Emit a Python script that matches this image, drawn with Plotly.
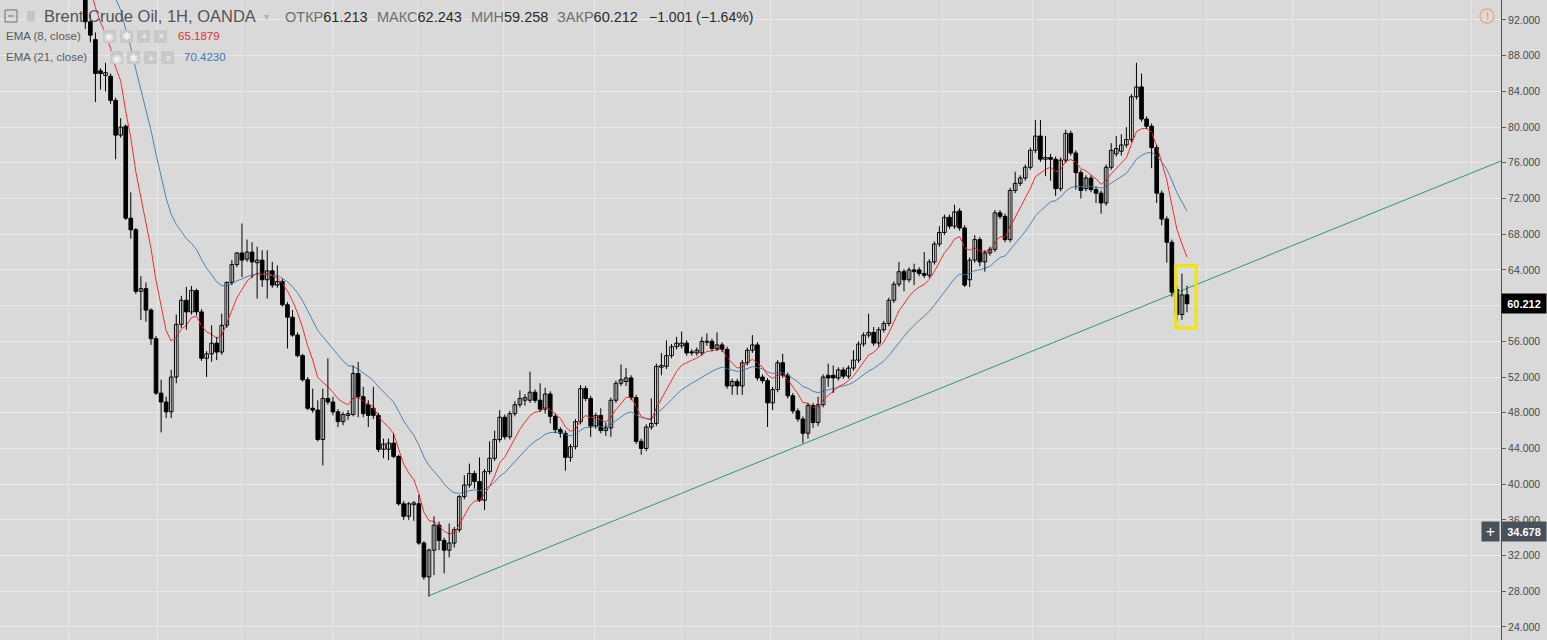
import plotly.graph_objects as go

# ---------------- data ----------------
opens = [95.5, 91.8, 89.8, 86.3, 85.8, 85.7, 83.0, 79.1, 80.1, 69.8,
         68.5, 61.6, 61.9, 59.5, 56.3, 50.2, 49.2, 48.1, 52.0, 57.9,
         60.6, 59.3, 61.7, 59.3, 54.1, 54.6, 55.8, 54.8, 57.8, 62.6,
         64.6, 65.9, 65.2, 66.0, 64.8, 65.1, 62.9, 63.9, 62.3, 62.7,
         60.1, 58.7, 56.7, 54.4, 51.7, 48.5, 48.3, 45.0, 49.6, 49.2,
         48.1, 47.0, 47.7, 47.8, 52.4, 49.8, 48.9, 48.5, 47.7, 43.9,
         43.9, 44.6, 43.1, 37.8, 36.4, 37.7, 37.8, 33.4, 29.6, 32.6,
         35.4, 33.7, 32.6, 33.4, 34.9, 38.6, 39.9, 41.2, 40.3, 38.2,
         41.4, 42.9, 45.0, 47.5, 45.3, 47.9, 48.9, 49.4, 49.4, 50.3,
         49.4, 48.4, 50.1, 47.6, 46.1, 45.7, 43.0, 44.2, 47.0, 50.7,
         49.6, 46.5, 47.7, 46.0, 46.3, 49.4, 51.3, 51.5, 51.9, 49.7,
         44.8, 44.0, 46.4, 46.8, 53.1, 53.2, 54.4, 55.4, 55.5, 55.8,
         54.8, 54.7, 54.7, 55.9, 56.0, 55.2, 55.6, 55.1, 51.0, 51.5,
         51.0, 53.6, 55.0, 55.6, 52.0, 51.6, 49.1, 50.6, 53.6, 52.2,
         49.9, 48.2, 47.3, 45.7, 48.8, 46.9, 48.9, 52.2, 52.2, 51.9,
         52.8, 52.1, 53.0, 53.9, 55.7, 56.7, 57.0, 55.8, 57.3, 58.0,
         60.6, 62.4, 63.8, 62.9, 64.0, 64.0, 63.6, 63.4, 64.9, 66.9,
         68.2, 69.9, 68.9, 70.6, 68.7, 62.9, 65.1, 67.4, 64.9, 65.9,
         66.3, 70.4, 70.0, 67.4, 72.9, 73.7, 74.3, 75.5, 77.4, 79.0,
         76.4, 76.6, 76.4, 73.1, 76.3, 79.3, 77.1, 74.9, 73.1, 74.3,
         73.0, 72.6, 71.5, 75.5, 77.0, 77.3, 78.0, 78.6, 83.4, 84.5,
         80.9, 80.1, 77.7, 72.6, 69.7, 67.1, 61.8, 59.0, 61.213]
highs = [96.0, 92.6, 90.6, 86.6, 87.2, 86.0, 83.3, 81.0, 80.3, 72.7,
         68.7, 63.3, 62.6, 59.7, 56.6, 51.7, 49.8, 52.8, 59.0, 61.1,
         62.1, 62.2, 61.9, 59.6, 54.9, 57.8, 56.5, 59.1, 62.7, 65.1,
         66.0, 69.2, 67.4, 67.1, 66.6, 66.2, 66.2, 64.9, 64.5, 63.0,
         60.4, 59.5, 57.0, 54.6, 52.0, 50.7, 49.4, 50.7, 54.1, 49.8,
         48.4, 48.1, 48.3, 53.3, 53.7, 50.9, 49.4, 50.9, 48.0, 45.1,
         45.1, 45.7, 43.3, 38.1, 38.0, 38.1, 38.8, 33.6, 32.8, 36.4,
         35.8, 34.0, 35.6, 35.2, 38.8, 41.0, 42.3, 41.5, 43.0, 41.7,
         44.8, 46.0, 48.3, 47.8, 48.2, 49.3, 50.5, 50.1, 52.6, 50.6,
         51.3, 50.8, 50.4, 47.9, 46.4, 46.0, 44.5, 47.3, 51.1, 51.0,
         49.9, 48.0, 48.5, 46.9, 49.7, 51.6, 53.4, 53.0, 52.2, 50.0,
         45.1, 46.7, 49.6, 53.5, 54.7, 56.1, 55.7, 56.5, 57.1, 56.1,
         55.1, 55.3, 56.5, 56.9, 56.3, 57.0, 55.9, 55.4, 51.8, 51.8,
         53.9, 55.3, 56.7, 55.9, 52.3, 51.9, 50.9, 53.9, 54.6, 52.5,
         50.2, 48.5, 47.6, 49.1, 49.1, 49.8, 52.3, 53.5, 53.3, 53.1,
         53.1, 53.3, 55.0, 56.0, 57.0, 59.1, 57.6, 57.6, 58.3, 60.9,
         62.7, 64.9, 64.1, 64.3, 64.7, 64.3, 66.0, 65.2, 67.2, 68.9,
         70.2, 70.2, 71.3, 70.9, 69.0, 65.4, 67.9, 67.7, 66.2, 66.6,
         70.7, 70.7, 70.3, 73.2, 75.0, 74.6, 75.8, 77.7, 80.8, 80.8,
         79.0, 77.0, 76.7, 76.6, 79.7, 79.6, 77.4, 75.2, 74.6, 74.6,
         73.3, 72.9, 75.8, 78.2, 79.0, 79.2, 80.0, 83.7, 87.2, 86.0,
         81.2, 80.4, 78.0, 72.9, 70.0, 67.4, 62.2, 63.6, 62.243]
lows = [91.0, 89.5, 82.8, 84.2, 84.0, 82.6, 76.4, 78.8, 69.6, 67.5,
        61.3, 58.4, 58.2, 55.6, 50.0, 45.8, 47.4, 47.4, 51.3, 57.5,
        57.3, 59.0, 58.9, 53.8, 52.0, 53.7, 53.9, 54.5, 57.5, 62.3,
        64.3, 63.2, 64.9, 63.1, 60.8, 62.1, 60.8, 62.0, 62.0, 59.9,
        55.2, 56.5, 54.2, 51.5, 48.3, 48.0, 44.8, 42.1, 48.9, 47.7,
        46.4, 46.6, 47.2, 47.6, 47.5, 47.5, 46.4, 47.3, 43.6, 42.9,
        42.7, 42.9, 37.6, 36.0, 36.0, 35.9, 33.2, 29.3, 27.4, 29.8,
        32.6, 30.0, 31.8, 32.9, 34.6, 38.3, 39.6, 39.5, 38.0, 37.1,
        41.1, 42.6, 44.7, 45.0, 45.0, 47.6, 48.6, 48.8, 49.1, 49.1,
        48.1, 47.9, 46.8, 45.7, 45.2, 41.5, 42.5, 43.9, 46.7, 49.3,
        45.3, 46.2, 45.7, 45.4, 45.3, 49.1, 51.0, 51.0, 49.4, 44.5,
        43.3, 43.7, 46.1, 46.5, 52.2, 52.9, 54.1, 55.1, 55.2, 54.4,
        54.4, 54.4, 54.4, 55.5, 54.9, 54.9, 54.8, 50.7, 50.0, 50.0,
        50.0, 53.3, 54.7, 51.6, 51.3, 46.4, 48.3, 50.3, 51.9, 49.6,
        47.9, 47.0, 44.6, 45.1, 46.3, 46.5, 48.6, 50.9, 50.2, 51.6,
        51.8, 51.8, 52.7, 53.6, 55.4, 56.4, 55.5, 55.4, 57.0, 57.7,
        60.3, 62.1, 61.6, 62.6, 62.3, 63.3, 63.1, 63.1, 64.6, 66.6,
        67.9, 68.6, 68.6, 68.4, 62.1, 62.1, 64.8, 64.4, 63.8, 65.6,
        66.0, 69.7, 67.1, 67.1, 72.6, 73.4, 74.0, 75.2, 77.1, 76.1,
        74.5, 74.0, 72.3, 72.8, 76.0, 76.8, 73.0, 72.0, 72.8, 72.7,
        71.5, 70.3, 71.2, 75.2, 76.7, 76.8, 77.7, 78.3, 83.1, 80.6,
        79.8, 75.4, 71.5, 69.0, 64.8, 61.0, 58.3, 58.4, 59.258]
closes = [91.8, 90.3, 86.0, 86.0, 86.1, 83.0, 79.1, 80.0, 69.8, 68.5,
          61.6, 61.9, 59.5, 56.3, 50.2, 49.2, 48.1, 52.0, 57.9, 60.6,
          59.3, 61.7, 59.3, 54.1, 54.6, 55.8, 54.8, 57.8, 62.6, 64.6,
          65.9, 65.1, 66.0, 64.9, 65.1, 62.9, 63.9, 62.3, 62.7, 60.1,
          58.7, 56.7, 54.4, 51.7, 48.5, 48.3, 45.0, 49.6, 49.2, 48.1,
          47.0, 47.8, 47.9, 52.4, 49.8, 47.9, 47.7, 47.7, 43.9, 44.5,
          44.6, 43.1, 37.8, 36.4, 37.8, 37.9, 33.4, 29.6, 32.6, 35.4,
          33.7, 32.6, 33.4, 34.9, 38.6, 39.9, 41.2, 40.3, 38.2, 41.4,
          42.9, 45.0, 47.5, 45.3, 47.9, 48.9, 49.6, 49.7, 50.3, 49.4,
          48.4, 50.1, 47.6, 46.1, 45.7, 43.0, 44.2, 47.0, 50.7, 49.6,
          46.5, 47.7, 46.0, 46.3, 49.4, 51.3, 51.7, 51.9, 49.7, 44.8,
          44.0, 46.4, 46.8, 53.2, 53.3, 54.4, 55.4, 55.8, 55.8, 54.7,
          54.7, 55.0, 56.0, 56.0, 55.2, 55.6, 55.1, 51.0, 51.5, 51.0,
          53.6, 55.0, 55.6, 51.9, 51.6, 49.1, 50.6, 53.6, 52.2, 49.9,
          48.2, 47.3, 45.7, 48.8, 46.9, 48.9, 52.0, 51.9, 51.9, 52.8,
          52.1, 53.0, 53.9, 55.7, 56.7, 57.0, 55.8, 57.3, 58.0, 60.6,
          62.4, 63.8, 62.9, 64.0, 63.8, 63.6, 63.4, 64.9, 66.9, 68.2,
          69.9, 68.9, 70.5, 68.7, 62.3, 65.1, 67.4, 64.9, 65.9, 66.3,
          70.4, 70.0, 67.4, 72.9, 73.7, 74.3, 75.5, 77.4, 79.0, 76.4,
          76.6, 76.4, 73.1, 76.3, 79.3, 77.1, 74.9, 72.9, 74.3, 73.0,
          72.6, 71.5, 75.5, 77.4, 77.6, 78.0, 78.6, 83.4, 84.5, 80.9,
          80.1, 77.7, 72.6, 69.7, 67.1, 61.5, 59.0, 61.2, 60.212]

ema8_seed = 97.0      # EMA(8) value at the first visible bar (above the view)
ema21_seed = 102.0    # EMA(21) value at the first visible bar (above the view)
ema8_last_label = "65.1879"
ema21_last_label = "70.4230"

price_ticks = [24, 28, 32, 36, 40, 44, 48, 52, 56, 60, 64, 68, 72, 76, 80, 84, 88, 92]
time_grid = [-3.4, 14.2, 31.0, 49.0, 65.8, 82.8, 100.7, 117.9, 135.5, 152.7,
             169.7, 187.5, 204.5, 221.9, 238.9, 256.7, 274.2]

trend_idx = [68, 281]
trend_val = [27.5, 76.4]
box_idx = [215.8, 219.8]
box_val = [57.5, 64.5]

last_price = 60.212
cross_price = 34.678

header = "Brent Crude Oil, 1H, OANDA"
ohlc_labels = ["ОТКР", "МАКС", "МИН", "ЗАКР"]
ohlc_values = ["61.213", "62.243", "59.258", "60.212"]
change_text = "−1.001 (−1.64%)"

# ---------------- derived ----------------
idx = list(range(len(closes)))


def ema(vals, period, seed):
    a = 2.0 / (period + 1)
    out = [seed]
    for v in vals[1:]:
        out.append(out[-1] + a * (v - out[-1]))
    return out


ema8 = ema(closes, 8, ema8_seed)
ema21 = ema(closes, 21, ema21_seed)

MIN_BODY = 0.12   # visual minimum body height for doji bars
up = [i for i in idx if closes[i] >= opens[i]]
dn = [i for i in idx if closes[i] < opens[i]]


def body(ii):
    base = [min(opens[i], closes[i]) for i in ii]
    hgt = [max(abs(closes[i] - opens[i]), MIN_BODY) for i in ii]
    return base, hgt


wick_x, wick_y = [], []
for i in idx:
    wick_x += [i, i, None]
    wick_y += [lows[i], highs[i], None]

# ---------------- layout geometry ----------------
W, H = 1547, 640
PLOT_W = 1501
first_px, last_px = 85.3, 1187.0
dx = (last_px - first_px) / (len(closes) - 1)
x_min = -first_px / dx
x_max = x_min + PLOT_W / dx
y_min, y_max = 22.54, 94.24

BG = "#d9d9d9"
GRID = "#e7e7e7"
FONT = "Liberation Sans, Arial, sans-serif"


def px(x):
    return x / PLOT_W


def py(y):
    return 1 - y / H


fig = go.Figure()

fig.add_trace(go.Scatter(x=idx, y=ema21, mode="lines",
                         line=dict(color="#4f83b5", width=1), hoverinfo="skip"))
fig.add_trace(go.Scatter(x=idx, y=ema8, mode="lines",
                         line=dict(color="#f0302e", width=1), hoverinfo="skip"))
fig.add_trace(go.Scatter(x=trend_idx, y=trend_val, mode="lines",
                         line=dict(color="#2f9a6c", width=1), hoverinfo="skip"))

fig.add_trace(go.Scatter(x=wick_x, y=wick_y, mode="lines",
                         line=dict(color="#000000", width=1), hoverinfo="skip"))
b_up, h_up = body(up)
fig.add_trace(go.Bar(x=up, y=h_up, base=b_up, width=0.72,
                     marker=dict(color="#ffffff", line=dict(color="#000000", width=1)),
                     hoverinfo="skip"))
b_dn, h_dn = body(dn)
fig.add_trace(go.Bar(x=dn, y=h_dn, base=b_dn, width=0.72,
                     marker=dict(color="#000000", line=dict(color="#000000", width=1)),
                     hoverinfo="skip"))

shapes = []
# yellow highlight box
shapes.append(dict(type="rect", xref="x", yref="y", x0=box_idx[0], x1=box_idx[1],
                   y0=box_val[0], y1=box_val[1], line=dict(color="#f4e500", width=3),
                   fillcolor="rgba(0,0,0,0)"))
# header icons
shapes.append(dict(type="rect", xref="paper", yref="paper", x0=px(5), x1=px(17),
                   y0=py(22), y1=py(10), line=dict(color="#707070", width=1)))
shapes.append(dict(type="line", xref="paper", yref="paper", x0=px(8), x1=px(14),
                   y0=py(16), y1=py(16), line=dict(color="#707070", width=1)))
shapes.append(dict(type="rect", xref="paper", yref="paper", x0=px(27), x1=px(35),
                   y0=py(21), y1=py(11), line=dict(width=0), fillcolor="#c4c4cc"))
# orange warning icon
shapes.append(dict(type="circle", xref="paper", yref="paper", x0=px(1480), x1=px(1494),
                   y0=py(23), y1=py(9), line=dict(color="#f0a47a", width=1.3)))

# legend button squares
btn_rows = [(30, 43, [103, 120, 137, 154]), (51, 64, [110, 127, 144, 161])]
for y0, y1, xs in btn_rows:
    for x0 in xs:
        shapes.append(dict(type="rect", xref="paper", yref="paper", x0=px(x0), x1=px(x0 + 13),
                           y0=py(y1), y1=py(y0), line=dict(width=0), fillcolor="#c9c9c9"))

ann = []


def text(x, y, t, size, color, anchor="left", family=FONT):
    ann.append(dict(xref="paper", yref="paper", x=px(x), y=py(y), text=t,
                    showarrow=False, xanchor=anchor, yanchor="middle",
                    font=dict(family=family, size=size, color=color)))


text(42, 16, header, 16.5, "#545454")
text(262, 16, "▾", 10, "#b0b0b0")
ohlc_x = [283, 375, 469, 555]
for lx, lab, val in zip(ohlc_x, ohlc_labels, ohlc_values):
    text(lx, 17, "<span style='color:#6e6e6e'>" + lab + "</span>" + val, 14.5, "#2a2a2a")
text(647, 17, change_text, 14, "#2a2a2a")

text(4, 36, "EMA (8, close)", 11.5, "#5a5a5a")
text(4, 57, "EMA (21, close)", 11.5, "#5a5a5a")
text(176, 36, ema8_last_label, 11.5, "#e53030")
text(182, 57, ema21_last_label, 11.5, "#3f78b2")
glyphs = ["◉", "✱", "+", "×"]
for y0, y1, xs in btn_rows:
    for x0, g in zip(xs, glyphs):
        text(x0 + 6.5, (y0 + y1) / 2, g, 11, "#f2f2f2", anchor="center")

text(1487, 16, "<b>!</b>", 10, "#f0a47a", anchor="center")

# price labels on the axis
ann.append(dict(xref="paper", yref="y", x=1.0, y=last_price, text="<b>60.212</b>",
                showarrow=False, xanchor="left", yanchor="middle", bgcolor="#000000",
                width=40, height=15, borderpad=2, align="center",
                font=dict(family=FONT, size=11, color="#ffffff")))
ann.append(dict(xref="paper", yref="y", x=1.0, y=cross_price, text="<b>34.678</b>",
                showarrow=False, xanchor="left", yanchor="middle", bgcolor="#4a505c",
                width=40, height=15, borderpad=2, align="center",
                font=dict(family=FONT, size=11, color="#ffffff")))
ann.append(dict(xref="paper", yref="y", x=1.0, y=cross_price, text="+",
                showarrow=False, xanchor="right", yanchor="middle", bgcolor="#4a505c",
                width=13, height=15, borderpad=2, align="center", xshift=-1,
                font=dict(family=FONT, size=16, color="#ffffff")))

fig.update_layout(
    width=W, height=H, autosize=False,
    margin=dict(l=0, r=W - PLOT_W, t=0, b=0),
    paper_bgcolor=BG, plot_bgcolor=BG,
    showlegend=False, barmode="overlay",
    shapes=shapes, annotations=ann,
    xaxis=dict(range=[x_min, x_max], tickvals=time_grid, showticklabels=False,
               ticks="", showgrid=True, gridcolor=GRID, gridwidth=1,
               zeroline=False, showline=False, fixedrange=True),
    yaxis=dict(range=[y_min, y_max], side="right", tickvals=price_ticks,
               ticktext=["%.3f" % v for v in price_ticks], showgrid=True,
               gridcolor=GRID, gridwidth=1, zeroline=False, showline=True,
               linecolor="#505050", linewidth=1, ticks="outside", ticklen=4,
               tickcolor="#606060", tickfont=dict(family=FONT, size=10.5, color="#4a4a4a"),
               fixedrange=True),
)

fig.write_html("out.html", config={"displayModeBar": False},
               post_script="document.body.style.margin='0';document.body.style.overflow='hidden';")
